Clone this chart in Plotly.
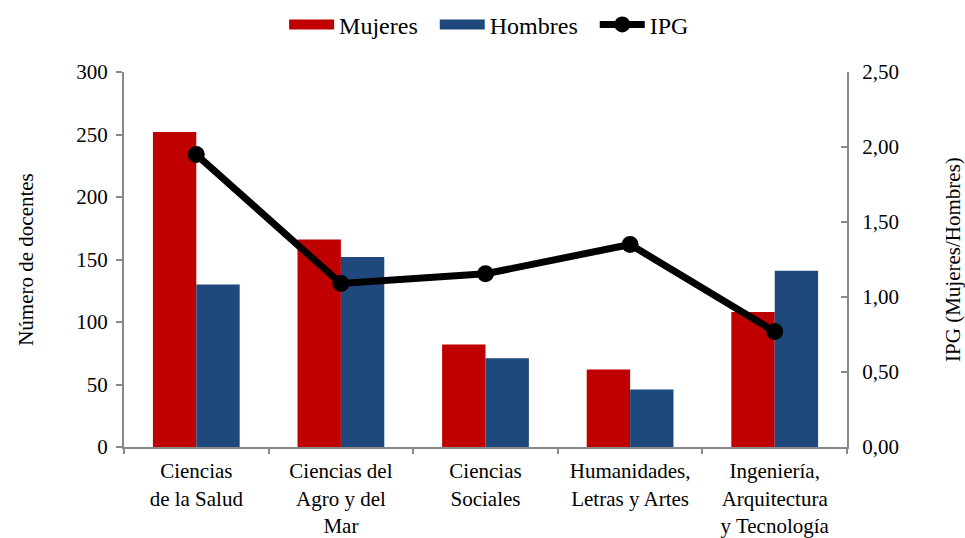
import plotly.graph_objects as go

categorias = ["Ciencias<br>de la Salud", "Ciencias del<br>Agro y del<br>Mar", "Ciencias<br>Sociales",
              "Humanidades,<br>Letras y Artes", "Ingeniería,<br>Arquitectura<br>y Tecnología"]
mujeres = [252, 166, 82, 62, 108]
hombres = [130, 152, 71, 46, 141]
ipg = [1.95, 1.09, 1.155, 1.35, 0.77]

font_fam = "Liberation Serif, DejaVu Serif, serif"
axis_col = "#898989"
c_muj = "#C00000"
c_hom = "#1F497D"

fig = go.Figure()
fig.add_trace(go.Bar(x=categorias, y=mujeres, name="Mujeres", marker=dict(color=c_muj, line=dict(width=0)),
                     showlegend=False))
fig.add_trace(go.Bar(x=categorias, y=hombres, name="Hombres", marker=dict(color=c_hom, line=dict(width=0)),
                     showlegend=False))
# legend-only entries drawn as wide bands like the original legend keys
fig.add_trace(go.Scatter(x=[None], y=[None], name="Mujeres  ", mode="lines",
                         line=dict(color=c_muj, width=11)))
fig.add_trace(go.Scatter(x=[None], y=[None], name="Hombres  ", mode="lines",
                         line=dict(color=c_hom, width=11)))
fig.add_trace(go.Scatter(x=categorias, y=ipg, name="IPG", yaxis="y2", mode="lines+markers",
                         line=dict(color="black", width=7), marker=dict(color="black", size=17)))

fig.update_layout(
    width=965, height=538,
    margin=dict(l=124, r=118, t=10, b=91, autoexpand=False),
    paper_bgcolor="white", plot_bgcolor="white",
    font=dict(family=font_fam, size=21, color="black"),
    barmode="group", bargap=0.4, bargroupgap=0,
    showlegend=True,
    legend=dict(orientation="h", x=0.505, xanchor="center", y=0.966, yanchor="middle",
                font=dict(size=24), tracegroupgap=0, itemwidth=45),
    xaxis=dict(type="category", showline=True, linecolor=axis_col, linewidth=2,
               ticks="outside", tickson="boundaries", ticklen=5, tickcolor=axis_col, tickwidth=2,
               tickfont=dict(size=21), showgrid=False, automargin=False, ticklabelstandoff=4),
    yaxis=dict(range=[0, 300], dtick=50, showline=True, linecolor=axis_col, linewidth=2,
               domain=[0, 0.858],
               ticks="outside", ticklen=6, tickcolor=axis_col, tickwidth=2, showgrid=False,
               zeroline=False, tickfont=dict(size=21), automargin=False, ticklabelstandoff=4,
               title=dict(text="Número de docentes", font=dict(size=21), standoff=37)),
    yaxis2=dict(range=[0, 2.5], dtick=0.5, overlaying="y", side="right", showline=True,
                linecolor=axis_col, linewidth=2, ticks="inside", ticklen=6, tickcolor=axis_col,
                tickwidth=2, showgrid=False, zeroline=False, tickformat=".2f",
                tickfont=dict(size=21), automargin=False, ticklabelstandoff=9,
                title=dict(text="IPG (Mujeres/Hombres)", font=dict(size=21), standoff=48)),
    separators=",.",
)

fig.write_html("out.html", config={"displayModeBar": False},
               post_script="document.body.style.margin='0px';")
